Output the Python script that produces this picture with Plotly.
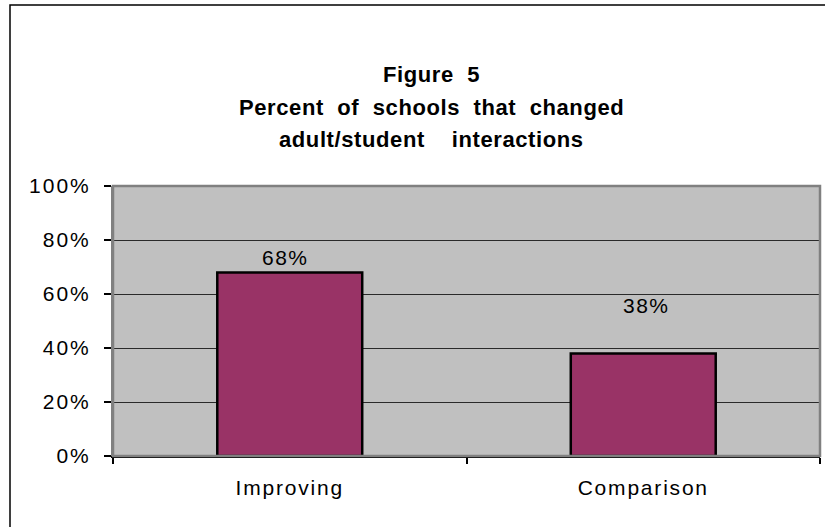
import plotly.graph_objects as go

# Chart data
categories = ["Improving", "Comparison"]
percent_changed = [68, 38]
y_ticks = [0, 20, 40, 60, 80, 100]
title_lines = ["Figure  5", "Percent  of  schools  that  changed", "adult/student    interactions"]

BAR_COLOR = "#993366"
PLOT_BG = "#C0C0C0"
FONT = "Liberation Sans, Arial, sans-serif"

# Plot-area geometry in pixels (used to place paper-referenced items)
PLOT_TOP, PLOT_BOTTOM = 186, 456
PLOT_LEFT, PLOT_RIGHT = 113, 820


def paper_y(px):
    return (PLOT_BOTTOM - px) / (PLOT_BOTTOM - PLOT_TOP)


def paper_x(px):
    return (px - PLOT_LEFT) / (PLOT_RIGHT - PLOT_LEFT)


def spaced(text, px):
    return f'<span style="letter-spacing:{px}px">{text}</span>'


fig = go.Figure()
fig.add_trace(go.Bar(
    x=categories,
    y=percent_changed,
    marker=dict(color=BAR_COLOR, line=dict(color="black", width=2.5)),
    width=0.41,
    hoverinfo="skip",
))

# Value labels sit above each bar top (pixel offsets)
label_offsets = [(-4, 15), (3, 48)]
for cat, val, (dx, dy) in zip(categories, percent_changed, label_offsets):
    fig.add_annotation(
        x=cat, y=val, xref="x", yref="y",
        text=spaced(f"{val}%", 1.5), showarrow=False,
        yanchor="middle", xshift=dx, yshift=dy,
        font=dict(family=FONT, size=21, color="black"),
    )

# Title block, one annotation per line
title_rows_px = [75, 107, 139]
for line, row in zip(title_lines, title_rows_px):
    fig.add_annotation(
        x=paper_x(431), y=paper_y(row), xref="paper", yref="paper",
        xanchor="center", yanchor="middle",
        text=spaced(f"<b>{line}</b>", 0.6),
        showarrow=False,
        font=dict(family=FONT, size=22, color="black"),
    )

# Outer chart frame (left and top edges fall inside the view)
fig.add_shape(type="rect", xref="paper", yref="paper",
              x0=paper_x(10), x1=1.2, y0=-0.5, y1=paper_y(5),
              line=dict(color="black", width=1.5), layer="below")

# Plot area frame
fig.add_shape(type="rect", xref="paper", yref="paper",
              x0=0, x1=1, y0=0, y1=1,
              line=dict(color="#808080", width=2.5), layer="above")

fig.update_layout(
    width=825, height=527,
    margin=dict(l=PLOT_LEFT, r=825 - PLOT_RIGHT, t=PLOT_TOP, b=527 - PLOT_BOTTOM),
    paper_bgcolor="white",
    plot_bgcolor=PLOT_BG,
    showlegend=False,
    bargap=0.59,
    font=dict(family=FONT, size=21, color="black"),
)

fig.update_xaxes(
    type="category",
    tickmode="array", tickvals=categories,
    ticktext=[spaced(c, 1.8) for c in categories],
    tickson="boundaries",
    ticks="outside", ticklen=6, tickwidth=1.5, tickcolor="black",
    showline=True, linecolor="black", linewidth=2,
    showgrid=False,
    ticklabelstandoff=12,
    tickfont=dict(family=FONT, size=21, color="black"),
)

fig.update_yaxes(
    range=[0, 100],
    tickmode="array", tickvals=y_ticks,
    ticktext=[spaced(f"{v}%", 2) for v in y_ticks],
    ticks="outside", ticklen=7, tickwidth=1.5, tickcolor="black",
    showline=True, linecolor="#808080", linewidth=2,
    showgrid=True, gridcolor="#2a2a2a", gridwidth=1.2,
    zeroline=False,
    ticklabelstandoff=9,
    tickfont=dict(family=FONT, size=21, color="black"),
)

fig.write_html("out.html")
